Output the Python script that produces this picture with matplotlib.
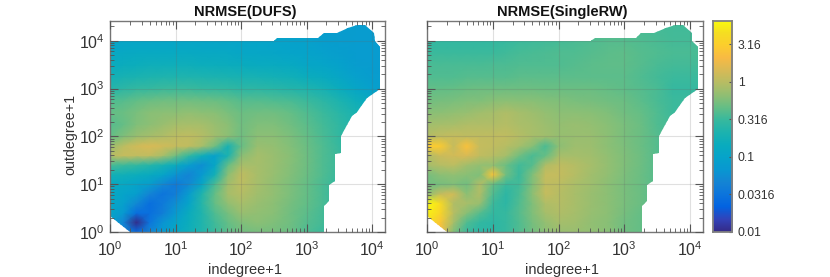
import numpy as np
import matplotlib
matplotlib.use('Agg')
import matplotlib.pyplot as plt
from matplotlib.colors import LinearSegmentedColormap, Normalize
from matplotlib.patches import Polygon
from matplotlib.ticker import FixedLocator, NullFormatter

plt.rcParams['font.family'] = ['Liberation Sans', 'DejaVu Sans']
plt.rcParams['mathtext.fontset'] = 'custom'
plt.rcParams['mathtext.rm'] = 'Liberation Sans'

# grid nodes, log10 of degree+1
log_in = [0, .2, .4, .6, .8, 1, 1.2, 1.4, 1.6, 1.8, 2, 2.25, 2.5, 2.75, 3, 3.25, 3.5, 3.75, 4, 4.25]
log_out = [0, .2, .4, .6, .8, 1, 1.2, 1.4, 1.6, 1.8, 2, 2.25, 2.5, 2.75, 3, 3.25, 3.5, 3.75, 4, 4.5]

# log10(NRMSE) at the nodes, one row per log_out value
dufs = [
    [-1.0, -1.3, -1.6, -1.35, -1.15, -.95, -.8, -.65, -.5, -.38, -.3, -.28, -.28, -.33, -.42, -.5, -.55, -.6, -.6, -.6],
    [-1.0, -1.35, -2.0, -1.5, -1.2, -1.0, -.82, -.65, -.48, -.35, -.25, -.2, -.25, -.3, -.4, -.47, -.55, -.6, -.6, -.6],
    [-.98, -1.15, -1.55, -1.55, -1.4, -1.15, -.85, -.65, -.42, -.28, -.15, -.18, -.22, -.3, -.38, -.47, -.55, -.6, -.6, -.6],
    [-.95, -1.05, -1.3, -1.55, -1.45, -1.25, -1.0, -.62, -.35, -.18, -.08, -.15, -.2, -.28, -.36, -.45, -.55, -.6, -.6, -.6],
    [-.92, -1.0, -1.08, -1.35, -1.5, -1.4, -1.1, -.65, -.35, -.1, -.03, -.12, -.18, -.26, -.35, -.45, -.55, -.6, -.6, -.6],
    [-.9, -.93, -1.0, -1.08, -1.3, -1.45, -1.3, -.95, -.45, -.12, 0, -.1, -.18, -.26, -.35, -.45, -.55, -.6, -.6, -.6],
    [-.75, -.78, -.82, -.88, -.98, -1.2, -1.35, -1.15, -.75, -.2, .03, -.08, -.16, -.24, -.33, -.43, -.52, -.6, -.6, -.6],
    [-.45, -.5, -.55, -.62, -.72, -.85, -1.1, -1.25, -.95, -.35, -.08, -.1, -.15, -.23, -.32, -.42, -.5, -.6, -.6, -.6],
    [-.03, .05, .02, .03, -.08, -.3, -.55, -.8, -1.05, -.7, -.22, -.1, -.15, -.22, -.32, -.42, -.5, -.6, -.6, -.6],
    [-.15, 0, .1, .15, .1, .05, .02, -.08, -.3, -.72, -.35, -.15, -.17, -.24, -.33, -.43, -.52, -.6, -.6, -.6],
    [-.35, -.25, -.15, -.1, -.05, 0, .02, -.03, -.12, -.2, -.3, -.2, -.2, -.26, -.35, -.45, -.55, -.62, -.65, -.65],
    [-.4, -.35, -.25, -.2, -.15, -.1, -.08, -.1, -.15, -.2, -.3, -.25, -.25, -.3, -.38, -.47, -.56, -.65, -.7, -.7],
    [-.35, -.33, -.27, -.22, -.2, -.2, -.18, -.2, -.22, -.27, -.33, -.3, -.3, -.35, -.42, -.5, -.6, -.7, -.75, -.8],
    [-.42, -.4, -.36, -.33, -.3, -.3, -.3, -.32, -.33, -.36, -.4, -.4, -.42, -.45, -.5, -.58, -.68, -.8, -.9, -.95],
    [-.62, -.58, -.54, -.52, -.5, -.5, -.5, -.52, -.53, -.55, -.58, -.58, -.6, -.63, -.67, -.73, -.83, -.95, -1.05, -1.1],
    [-.75, -.72, -.7, -.68, -.67, -.67, -.67, -.68, -.69, -.7, -.72, -.73, -.75, -.78, -.83, -.88, -.95, -1.05, -1.1, -1.1],
    [-.85, -.83, -.82, -.8, -.8, -.8, -.8, -.82, -.82, -.83, -.85, -.87, -.88, -.9, -.95, -.98, -1.03, -1.1, -1.12, -1.12],
    [-.92, -.92, -.9, -.9, -.9, -.9, -.9, -.92, -.92, -.93, -.95, -.95, -.97, -1.0, -1.02, -1.05, -1.08, -1.12, -1.12, -1.12],
    [-.98, -.98, -.98, -.98, -.98, -.98, -.98, -.98, -.99, -1.0, -1.0, -1.0, -1.02, -1.03, -1.05, -1.08, -1.1, -1.12, -1.12, -1.12],
    [-1.0, -1.0, -1.0, -1.0, -1.0, -1.0, -1.0, -1.0, -1.0, -1.0, -1.0, -1.02, -1.03, -1.05, -1.08, -1.1, -1.1, -1.12, -1.12, -1.12],
]
single_rw = [
    [.6, .3, -.25, -.5, -.58, -.58, -.52, -.42, -.3, -.2, -.15, -.15, -.18, -.22, -.3, -.35, -.4, -.45, -.45, -.45],
    [.65, .4, -.1, -.42, -.55, -.58, -.52, -.42, -.28, -.17, -.1, -.12, -.18, -.22, -.3, -.35, -.4, -.45, -.45, -.45],
    [.75, .55, -.02, -.22, -.4, -.55, -.52, -.4, -.25, -.1, -.05, -.1, -.16, -.2, -.28, -.35, -.4, -.45, -.45, -.45],
    [.8, .6, -.05, -.08, -.15, -.5, -.58, -.42, -.25, -.05, -.03, -.08, -.15, -.2, -.27, -.33, -.4, -.45, -.45, -.45],
    [-.2, .05, .1, -.2, -.05, -.42, -.58, -.45, -.2, .05, -.02, -.08, -.15, -.2, -.27, -.33, -.4, -.45, -.45, -.45],
    [-.3, -.28, -.25, -.3, -.05, -.35, -.5, -.48, -.25, .02, 0, -.07, -.13, -.2, -.27, -.33, -.4, -.45, -.45, -.45],
    [-.28, -.2, -.18, -.22, -.25, .4, -.3, -.5, -.25, .05, .05, -.03, -.12, -.18, -.26, -.33, -.4, -.45, -.45, -.45],
    [-.1, -.03, 0, -.12, -.18, -.18, -.33, -.48, -.4, -.05, .03, -.03, -.1, -.17, -.25, -.32, -.4, -.45, -.45, -.45],
    [-.05, .08, .1, .15, .02, -.02, -.1, -.3, -.45, -.35, -.1, -.1, -.12, -.18, -.25, -.32, -.4, -.45, -.45, -.45],
    [.45, .45, .05, .38, .05, .03, -.02, -.1, -.22, -.45, -.2, -.13, -.14, -.2, -.26, -.33, -.4, -.45, -.45, -.45],
    [-.03, .02, .05, .03, .03, .03, .03, -.03, -.08, -.12, -.16, -.15, -.15, -.2, -.27, -.33, -.4, -.47, -.47, -.47],
    [-.12, -.1, -.08, -.05, -.05, -.05, -.03, -.07, -.1, -.14, -.17, -.15, -.17, -.22, -.27, -.33, -.42, -.47, -.47, -.47],
    [-.22, -.2, -.18, -.16, -.12, -.1, -.05, -.1, -.13, -.17, -.2, -.2, -.22, -.25, -.3, -.35, -.43, -.5, -.5, -.5],
    [-.3, -.28, -.27, -.25, -.25, -.22, -.2, -.22, -.22, -.24, -.25, -.27, -.28, -.3, -.33, -.38, -.45, -.5, -.5, -.5],
    [-.36, -.36, -.35, -.33, -.32, -.32, -.32, -.32, -.32, -.33, -.33, -.33, -.33, -.35, -.37, -.4, -.45, -.52, -.52, -.52],
    [-.42, -.42, -.42, -.4, -.4, -.4, -.4, -.38, -.38, -.38, -.38, -.38, -.38, -.38, -.38, -.42, -.47, -.5, -.5, -.5],
    [-.45, -.45, -.45, -.45, -.45, -.44, -.44, -.43, -.42, -.42, -.42, -.4, -.38, -.37, -.37, -.4, -.45, -.47, -.47, -.47],
    [-.5, -.5, -.5, -.5, -.5, -.5, -.48, -.46, -.45, -.44, -.43, -.42, -.4, -.38, -.37, -.4, -.42, -.45, -.45, -.45],
    [-.55, -.55, -.55, -.55, -.55, -.53, -.52, -.5, -.49, -.48, -.47, -.45, -.42, -.4, -.4, -.42, -.45, -.47, -.47, -.47],
    [-.55, -.55, -.55, -.55, -.55, -.53, -.52, -.5, -.49, -.48, -.47, -.45, -.44, -.44, -.45, -.47, -.48, -.48, -.48, -.48],
]

# outline of the observed region, log10 again
edge_in = [0, 0, 2.5, 2.55, 3.18, 3.26, 3.46, 3.64, 3.77, 3.9, 4.03, 4.04, 4.12, 4.12, 3.92, 3.77, 3.69, 3.62, 3.53, 3.53, 3.44, 3.44, 3.35, 3.35, 3.27, 3.27, .3]
edge_out = [.34, 4, 4, 4.05, 4.05, 4.16, 4.16, 4.26, 4.33, 4.33, 4.16, 3.99, 3.88, 2.99, 2.8, 2.52, 2.42, 2.24, 2.01, 1.65, 1.64, 1.06, .99, .64, .54, 0, 0]

titles = ['NRMSE(DUFS)', 'NRMSE(SingleRW)']
cbar_ticks = [.01, .0316, .1, .316, 1, 3.16]
cbar_labels = ['0.01', '0.0316', '0.1', '0.316', '1', '3.16']

parula = LinearSegmentedColormap.from_list('parula', [
    (.2081, .1663, .5292), (.1959, .2645, .7279), (.0117, .3875, .8820), (.0498, .4586, .8641),
    (.0793, .5200, .8312), (.0343, .5966, .8199), (.0231, .6418, .7913), (.0384, .6743, .7436),
    (.1133, .7015, .6859), (.2178, .7250, .6193), (.3953, .7459, .5244), (.5709, .7485, .4494),
    (.7184, .7411, .3905), (.8507, .7299, .3360), (.9739, .7314, .2666), (.9880, .8066, .1794),
    (.9626, .8705, .1309), (.9763, .9831, .0538)])
norm = Normalize(-2, .81)
gray = '#555555'

fig = plt.figure(figsize=(8.3, 2.77), dpi=100)
ax1 = fig.add_axes([110.3 / 830, 1 - 232 / 277, 274.7 / 830, 211.3 / 277])
ax2 = fig.add_axes([427.3 / 830, 1 - 232 / 277, 275.7 / 830, 211.3 / 277])
cax = fig.add_axes([712.7 / 830, 1 - 232 / 277, 19.5 / 830, 211.3 / 277])

xs, ys = 10.0 ** np.array(log_in), 10.0 ** np.array(log_out)
outline = np.column_stack([10.0 ** np.array(edge_in), 10.0 ** np.array(edge_out)])
minor = [m * 10 ** e for e in range(5) for m in range(2, 10)]

for ax, vals, title in zip([ax1, ax2], [dufs, single_rw], titles):
    mesh = ax.pcolormesh(xs, ys, np.array(vals), shading='gouraud', cmap=parula, norm=norm,
                         antialiased=False, zorder=1)
    ax.set_xscale('log')
    ax.set_yscale('log')
    mesh.set_clip_path(Polygon(outline, closed=True, transform=ax.transData))
    ax.set_xlim(1, 10 ** 4.2)
    ax.set_ylim(1, 10 ** 4.42)
    ax.set_title(title, fontsize=10.5, fontweight='bold', pad=3.5, color='#111111', x=.98 / 2)
    ax.set_xlabel('indegree+1', fontsize=10.5, color='#333333', labelpad=2.5, x=.978 / 2)
    ax.grid(True, which='major', color='#666666', alpha=.2, lw=.8)
    ax.set_axisbelow(False)
    ax.xaxis.set_minor_locator(FixedLocator(minor))
    ax.yaxis.set_minor_locator(FixedLocator(minor))
    ax.xaxis.set_minor_formatter(NullFormatter())
    ax.yaxis.set_minor_formatter(NullFormatter())
    ax.tick_params(which='major', direction='in', top=True, right=True, length=6, width=.8,
                   color=gray, labelsize=11.5, labelcolor='#333333')
    ax.tick_params(axis='x', which='major', pad=6)
    ax.tick_params(axis='y', which='major', pad=4)
    ax.tick_params(which='minor', direction='in', top=True, right=True, length=3, width=.6, color=gray)
    for s in ax.spines.values():
        s.set_color('#777777')
        s.set_linewidth(1)

ax1.set_ylabel('outdegree+1', fontsize=10.3, color='#333333', labelpad=1, y=.46)
ax2.tick_params(which='both', labelleft=False)

bar = np.linspace(-2, .81, 256).reshape(-1, 1)
cax.imshow(bar, origin='lower', aspect='auto', cmap=parula, norm=norm, extent=[0, 1, -2, .81])
cax.set_xticks([])
cax.yaxis.tick_right()
cax.set_yticks(np.log10(cbar_ticks))
cax.set_yticklabels(cbar_labels)
cax.tick_params(axis='y', direction='in', length=2, width=.8, color=gray, labelsize=8.7,
                labelcolor='#333333', pad=4)
for s in cax.spines.values():
    s.set_color('#808080')
    s.set_linewidth(1.3)

fig.savefig('out.png', dpi=100)
